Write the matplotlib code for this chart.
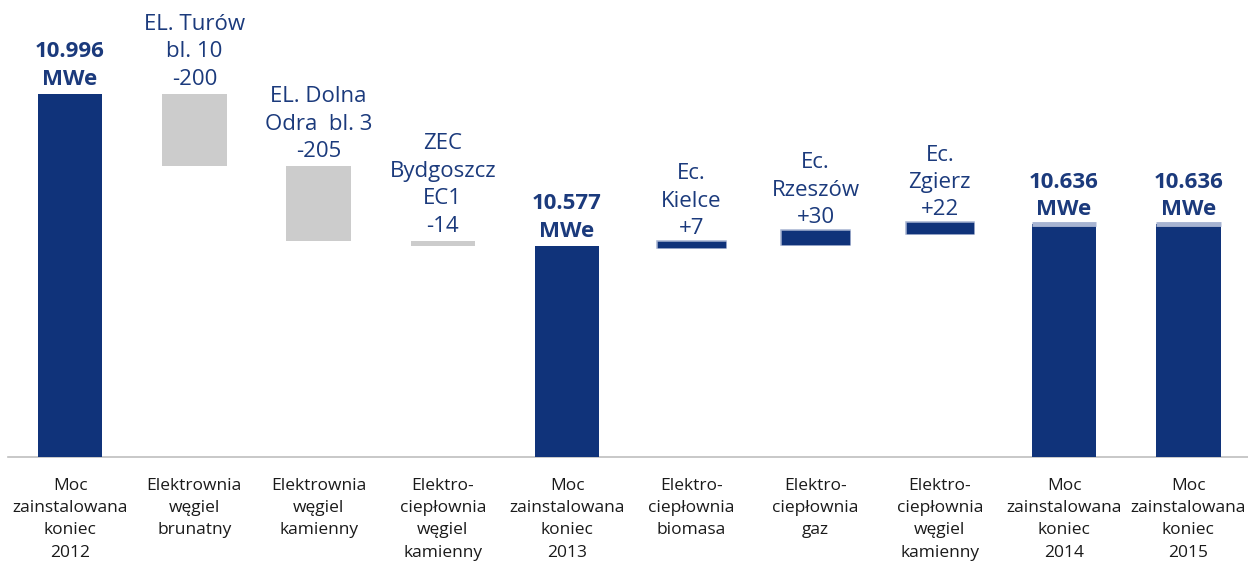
import numpy as np
import matplotlib.pyplot as plt

# waterfall: installed capacity (MWe)
categories = ["Moc\nzainstalowana\nkoniec\n2012", "Elektrownia\nwęgiel\nbrunatny",
              "Elektrownia\nwęgiel\nkamienny", "Elektro-\nciepłownia\nwęgiel\nkamienny",
              "Moc\nzainstalowana\nkoniec\n2013", "Elektro-\nciepłownia\nbiomasa",
              "Elektro-\nciepłownia\ngaz", "Elektro-\nciepłownia\nwęgiel\nkamienny",
              "Moc\nzainstalowana\nkoniec\n2014", "Moc\nzainstalowana\nkoniec\n2015"]
changes = [10996, -200, -205, -14, None, 7, 30, 22, None, None]
kinds = ["total", "down", "down", "down", "total", "up", "up", "up", "total", "total"]
labels = ["10.996\nMWe", "EL. Turów\nbl. 10\n-200", "EL. Dolna\nOdra  bl. 3\n-205",
          "ZEC\nBydgoszcz\nEC1\n-14", "10.577\nMWe", "Ec.\nKielce\n+7",
          "Ec.\nRzeszów\n+30", "Ec.\nZgierz\n+22", "10.636\nMWe", "10.636\nMWe"]

navy = "#10337A"
halo = "#A7B4D2"
grey = "#CCCCCC"
txt = "#1B3A7C"
ymin = 9995

plt.rcParams['font.family'] = ['Open Sans', 'DejaVu Sans']

fig = plt.figure(figsize=(12.48, 5.63), dpi=100)
ax = fig.add_axes([8 / 1248, 106 / 563, 1240 / 1248, 457 / 563])

x = np.arange(len(categories))
w = 0.52
level = 0
for i, k in enumerate(kinds):
    if k == "total":
        if changes[i] is not None:
            level = changes[i]
        ax.bar(x[i], level - ymin, bottom=ymin, width=w, color=navy, zorder=3)
        if i >= 8:
            ax.plot([x[i] - w / 2, x[i] + w / 2], [level, level], color=halo, lw=3.5,
                    solid_capstyle='butt', zorder=4)
        top = level
    elif k == "down":
        new = level + changes[i]
        ax.bar(x[i], -changes[i], bottom=new, width=w, color=grey, zorder=3)
        top = level
        level = new
    else:
        new = level + changes[i]
        ax.bar(x[i], changes[i], bottom=level, width=w, color=navy,
               edgecolor=halo, linewidth=4, zorder=2)
        ax.bar(x[i], changes[i], bottom=level, width=w, color=navy,
               edgecolor=navy, linewidth=2.5, zorder=3)
        top = new
        level = new
    bold = k == "total"
    ax.annotate(labels[i], (x[i], top), xytext=(0, 3), textcoords="offset points",
                ha="center", va="bottom", fontsize=16, color=txt,
                fontweight="bold" if bold else "normal", linespacing=1.4)

ax.set_xlim(-0.5, 9.48)
ax.set_ylim(ymin, ymin + 457 * 2.7566)
ax.set_xticks(x)
ax.set_xticklabels(categories, fontsize=12.5, color="#1a1a1a", linespacing=1.52)
ax.tick_params(axis="x", length=0, pad=15)
ax.set_yticks([])
for s in ["top", "left", "right"]:
    ax.spines[s].set_visible(False)
ax.spines["bottom"].set_color("#BFBFBF")
ax.spines["bottom"].set_linewidth(1.2)

fig.savefig("out.png", dpi=100)
